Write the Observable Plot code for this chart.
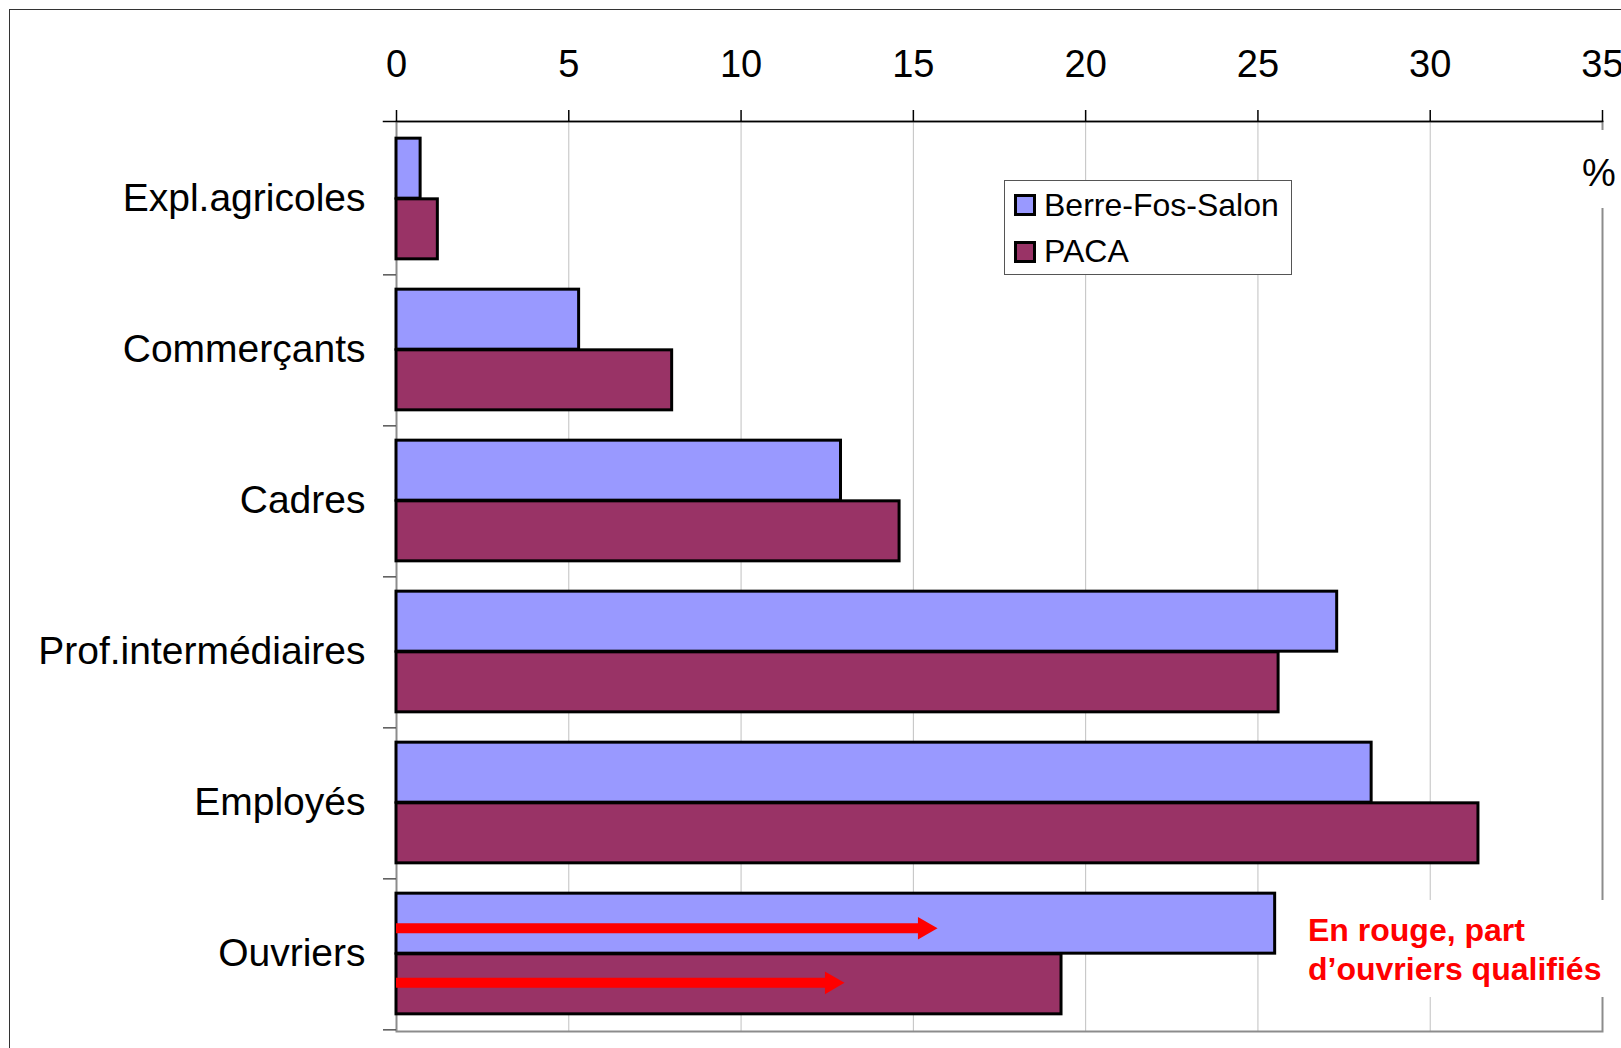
<!DOCTYPE html>
<html>
<head>
<meta charset="utf-8">
<script src="https://cdn.jsdelivr.net/npm/d3@7"></script>
<script src="https://cdn.jsdelivr.net/npm/@observablehq/plot@0.6"></script>
<style>
  html, body { margin: 0; padding: 0; background: white; overflow: hidden; }
  #wrap { position: relative; width: 1621px; height: 1048px; overflow: hidden; font-family: "Liberation Sans", Arial, sans-serif; }
  #wrap svg { position: absolute; left: 0; top: 0; }
  .frameline { position: absolute; left: 9px; top: 9px; width: 1700px; height: 1100px; border: 1.5px solid #333; box-sizing: border-box; pointer-events: none; }
  .legend { position: absolute; left: 1004px; top: 180px; width: 288px; height: 95px; border: 1.5px solid #555; box-sizing: border-box; background: white; }
  .sw { position: absolute; width: 22px; height: 22px; border: 3px solid #000; box-sizing: border-box; }
  .lt { position: absolute; font-size: 32px; line-height: 1; color: #000; white-space: nowrap; }
  .pct { position: absolute; left: 1580px; top: 130px; width: 38px; height: 78px; background: white; text-align: center; font-size: 38px; line-height: 1; padding-top: 24px; box-sizing: border-box; color: #000; }
  .note { position: absolute; left: 1296px; top: 900px; width: 320px; height: 97px; background: white; color: #ff0000; font-weight: bold; font-size: 32px; line-height: 38.5px; padding-left: 12px; padding-top: 11px; box-sizing: border-box; white-space: nowrap; }
</style>
</head>
<body>
<div id="wrap"></div>
<script>
// ---- data ----
const categories = ["Expl.agricoles", "Commerçants", "Cadres", "Prof.intermédiaires", "Employés", "Ouvriers"];
const series = ["Berre-Fos-Salon", "PACA"];
const berre = [0.7, 5.3, 12.9, 27.3, 28.3, 25.5];
const paca = [1.2, 8.0, 14.6, 25.6, 31.4, 19.3];
const qualifiedCategory = "Ouvriers";
const qualified = [15.7, 13.0]; // part d'ouvriers qualifiés : Berre-Fos-Salon, PACA
const xTicks = [0, 5, 10, 15, 20, 25, 30, 35];
const colors = ["#9999ff", "#993366"];
const unitLabel = "%";
const noteLines = ["En rouge, part", "d’ouvriers qualifiés"];

// ---- layout ----
const W = 1621, H = 1048;
const mL = 396, mT = 121, mR = 19, mB = 17;
const bw = (H - mT - mB) / categories.length;
const pad = bw * 0.1;

const rows = [];
categories.forEach((c, i) => {
  rows.push({category: c, series: series[0], value: berre[i]});
  rows.push({category: c, series: series[1], value: paca[i]});
});
const arrows = series.map((s, i) => ({category: qualifiedCategory, series: s, value: qualified[i]}));

const arrowDy = [-0.17 * bw, 0.19 * bw];

function barsFor(k) {
  return Plot.barX(rows.filter(d => d.series === series[k]), {
    x: "value", y: "category", fill: colors[k], stroke: "#000", strokeWidth: 3,
    insetTop: k === 0 ? pad : bw / 2, insetBottom: k === 0 ? bw / 2 : pad
  });
}
function arrowFor(k) {
  const data = arrows.filter(d => d.series === series[k]);
  return [
    Plot.ruleY(data, {y: "category", x1: 0, x2: "value", stroke: "#ff0000", strokeWidth: 10, insetRight: 18, dy: arrowDy[k]}),
    Plot.dot(data, {x: "value", y: "category", symbol: "triangle", rotate: 90, r: 8.4, fill: "#ff0000", stroke: "none", dx: -13, dy: arrowDy[k]})
  ];
}

const chart = Plot.plot({
  width: W, height: H,
  marginLeft: mL, marginTop: mT, marginRight: mR, marginBottom: mB,
  style: {fontFamily: "'Liberation Sans', Arial, sans-serif", background: "transparent", color: "#000"},
  x: {domain: [0, 35]},
  y: {domain: categories, padding: 0},
  marks: [
    Plot.gridX(xTicks.filter(d => d > 0 && d < 35), {stroke: "#c0c0c0", strokeOpacity: 1, strokeWidth: 1}),
    Plot.frame({stroke: "#8c8c8c", strokeWidth: 2}),
    barsFor(0),
    barsFor(1),
    ...arrowFor(0),
    ...arrowFor(1),
    Plot.ruleY(categories, {y: d => d, x1: 0, x2: 0, insetLeft: -13, dy: bw / 2, stroke: "#555", strokeWidth: 1.5}),
    Plot.frame({anchor: "top", stroke: "#000", strokeWidth: 1.5, insetLeft: -13}),
    Plot.axisX(xTicks, {anchor: "top", tickSize: 12, tickPadding: 33, fontSize: 38, stroke: "#000", strokeWidth: 1.5, fill: "#000", label: null}),
    Plot.axisY({anchor: "left", tickSize: 0, tickPadding: 31, fontSize: 39, fill: "#000", label: null})
  ]
});

const wrap = document.getElementById("wrap");
wrap.appendChild(chart);

// outer frame
const fr = document.createElement("div");
fr.className = "frameline";
wrap.appendChild(fr);

// legend
const lg = document.createElement("div");
lg.className = "legend";
wrap.appendChild(lg);
const swTops = [194, 241];
const txtTops = [188.5, 235];
series.forEach((s, i) => {
  const sw = document.createElement("div");
  sw.className = "sw";
  sw.style.left = "1014px";
  sw.style.top = swTops[i] + "px";
  sw.style.background = colors[i];
  wrap.appendChild(sw);
  const t = document.createElement("div");
  t.className = "lt";
  t.style.left = "1044px";
  t.style.top = txtTops[i] + "px";
  t.textContent = s;
  wrap.appendChild(t);
});

// unit label
const pct = document.createElement("div");
pct.className = "pct";
pct.textContent = unitLabel;
wrap.appendChild(pct);

// note
const note = document.createElement("div");
note.className = "note";
note.innerHTML = noteLines.join("<br>");
wrap.appendChild(note);
</script>
</body>
</html>
